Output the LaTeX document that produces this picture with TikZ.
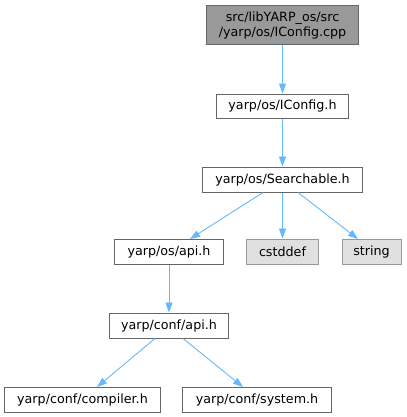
\documentclass[tikz,border=0pt]{standalone}
\usepackage{fontspec}
\setmainfont{DejaVu Sans}
\usetikzlibrary{arrows.meta}
\definecolor{edgec}{HTML}{63B8FF}
\definecolor{rootfill}{HTML}{999999}
\definecolor{rootdraw}{HTML}{666666}
\definecolor{extfill}{HTML}{E0E0E0}
\definecolor{extdraw}{HTML}{999999}
\definecolor{nodedraw}{HTML}{666666}
\tikzset{
  box/.style={draw=nodedraw, fill=white, line width=1bp, inner sep=0pt, font=\fontsize{12.7bp}{15bp}\selectfont, align=center},
  rootbox/.style={box, draw=rootdraw, fill=rootfill},
  extbox/.style={box, draw=extdraw, fill=extfill},
  dep/.style={draw=edgec, line width=0.9bp, -{Triangle[length=10bp,width=7bp]}}
}
\begin{document}
\begin{tikzpicture}[x=1bp,y=-1bp]
\useasboundingbox (0,0) rectangle (407,417);
\node[rootbox, minimum width=151bp, minimum height=39bp] (cpp) at (282.5,25) {src/libYARP\_os/src\\/yarp/os/IConfig.cpp};
\node[box, minimum width=132bp, minimum height=24bp] (iconfig) at (282.5,106) {yarp/os/IConfig.h};
\node[box, minimum width=159bp, minimum height=25bp] (search) at (282.5,179.5) {yarp/os/Searchable.h};
\node[box, minimum width=108bp, minimum height=25bp] (osapi) at (169,251.5) {yarp/os/api.h};
\node[extbox, minimum width=71bp, minimum height=25bp] (cstddef) at (282.5,251.5) {cstddef};
\node[extbox, minimum width=59bp, minimum height=25bp] (string) at (371.5,251.5) {string};
\node[box, minimum width=119bp, minimum height=25bp] (confapi) at (169,325.5) {yarp/conf/api.h};
\node[box, minimum width=155bp, minimum height=25bp] (compiler) at (82.5,399.5) {yarp/conf/compiler.h};
\node[box, minimum width=148bp, minimum height=25bp] (system) at (257,399.5) {yarp/conf/system.h};
\draw[dep] (cpp) -- (iconfig);
\draw[dep] (iconfig) -- (search);
\draw[dep] (search.south -| 263,0) -- (190,239);
\draw[dep] (search) -- (cstddef);
\draw[dep] (search.south -| 298,0) -- (358,239);
\draw[dep] (osapi) -- (confapi);
\draw[dep] (confapi.south -| 155,0) -- (97,387);
\draw[dep] (confapi.south -| 183,0) -- (243,387);
\end{tikzpicture}
\end{document}
